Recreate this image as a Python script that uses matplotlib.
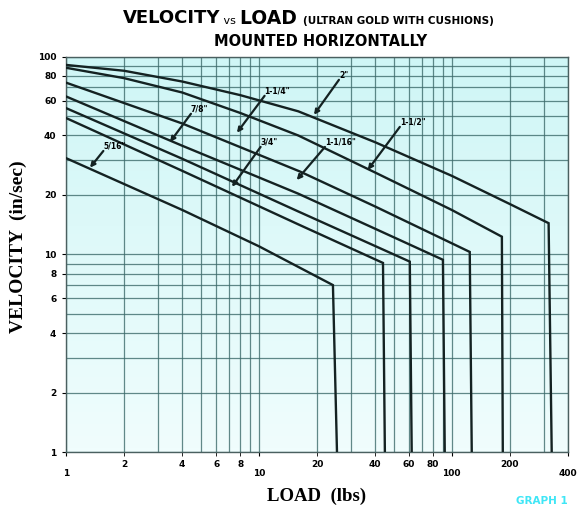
import numpy as np
import matplotlib.pyplot as plt
from matplotlib.colors import LinearSegmentedColormap

# load (lbs) / velocity (in/sec) points, one list per bore
load_2 = [1, 2, 4, 8, 16, 40, 100, 200, 318, 330]
vel_2 = [91, 85, 75, 64, 53, 37, 25, 18, 14.4, 1]
load_1_1_2 = [1, 2, 4, 8, 16, 40, 100, 182, 184]
vel_1_1_2 = [88, 78, 66, 52, 40, 26, 16.8, 12.3, 1]
load_1_1_4 = [1, 4, 16.3, 40, 124, 127]
vel_1_1_4 = [74, 46, 26.3, 17.5, 10.3, 1]
load_1_1_16 = [1, 4, 16, 40, 90, 92]
vel_1_1_16 = [63, 35.5, 20.3, 13.5, 9.4, 1]
load_7_8 = [1, 4, 16, 60.6, 62]
vel_7_8 = [55, 30.5, 16.5, 9.2, 1]
load_3_4 = [1, 4, 16, 44, 45]
vel_3_4 = [49, 26.5, 14.2, 9.06, 1]
load_5_16 = [1, 4, 10, 24.2, 25.4]
vel_5_16 = [30.7, 16.8, 11, 7.0, 1]

curves = [(load_2, vel_2), (load_1_1_2, vel_1_1_2), (load_1_1_4, vel_1_1_4),
          (load_1_1_16, vel_1_1_16), (load_7_8, vel_7_8), (load_3_4, vel_3_4),
          (load_5_16, vel_5_16)]

# label text, label position (left, bottom), arrow tip
labels = [('5/16"', (1.56, 33.4), (1.33, 27.5)),
          ('7/8"', (4.44, 51.5), (3.46, 37.1)),
          ('3/4"', (10.2, 35.0), (7.25, 22.0)),
          ('1-1/4"', (10.7, 63.5), (7.69, 41.3)),
          ('1-1/16"', (22.0, 35.0), (15.7, 23.8)),
          ('2"', (26.0, 76.5), (19.3, 50.9)),
          ('1-1/2"', (53.8, 44.2), (36.7, 26.8))]

x_ticks_low = [1, 10, 100, 400]
x_ticks_high = [2, 4, 6, 8, 20, 40, 60, 80, 200]
y_ticks = [1, 2, 4, 6, 8, 10, 20, 40, 60, 80, 100]
grid_x = [1, 2, 3, 4, 5, 6, 7, 8, 9, 10, 20, 30, 40, 50, 60, 70, 80, 90, 100, 200, 300, 400]
grid_y = [1, 2, 3, 4, 5, 6, 7, 8, 9, 10, 20, 30, 40, 50, 60, 70, 80, 90, 100]

fig = plt.figure(figsize=(5.8, 5.12), dpi=100)
ax = fig.add_axes([0.114, 0.117, 0.865, 0.772])
ax.set_xscale('log')
ax.set_yscale('log')
ax.set_xlim(1, 400)
ax.set_ylim(1, 100)

bg = LinearSegmentedColormap.from_list('bg', ['#f0fdfd', '#cff6f6'])
ax.imshow(np.linspace(0, 1, 100).reshape(-1, 1), cmap=bg, origin='lower',
          extent=[0, 1, 0, 1], transform=ax.transAxes, aspect='auto', zorder=0)

for gx in grid_x:
    ax.axvline(gx, color='#3d6b6b', lw=0.9, alpha=0.8, zorder=1)
for gy in grid_y:
    ax.axhline(gy, color='#3d6b6b', lw=0.9, alpha=0.8, zorder=1)

for lx, vy in curves:
    ax.plot(lx, vy, color='#142222', lw=1.7, zorder=3, solid_joinstyle='miter')

for txt, pos, tip in labels:
    ax.annotate('', xy=tip, xytext=pos, zorder=4,
                arrowprops=dict(arrowstyle='-|>', color='#142222', lw=1.6,
                                mutation_scale=7, shrinkA=0, shrinkB=0))
    ax.text(pos[0], pos[1], txt, fontsize=5.5, fontweight='bold',
            ha='left', va='bottom', zorder=5)

ax.set_xticks(x_ticks_low)
ax.set_xticklabels([str(v) for v in x_ticks_low])
ax.set_xticks(x_ticks_high, minor=True)
ax.set_xticklabels([str(v) for v in x_ticks_high], minor=True)
ax.tick_params(axis='x', which='major', length=3, pad=9, labelsize=6.5)
ax.tick_params(axis='x', which='minor', length=3, pad=3, labelsize=6.5)
ax.set_yticks(y_ticks)
ax.set_yticklabels([str(v) for v in y_ticks])
ax.yaxis.set_minor_locator(plt.NullLocator())
ax.tick_params(axis='y', length=3, pad=4, labelsize=6.5)
for t in ax.get_xticklabels(which='both') + ax.get_yticklabels():
    t.set_fontweight('bold')

for s in ax.spines.values():
    s.set_color('#4a6060')
    s.set_linewidth(1.0)

ax.set_xlabel('LOAD  (lbs)', family='Liberation Serif', fontweight='bold',
              fontsize=13.5, labelpad=7)
ax.set_ylabel('VELOCITY  (in/sec)', family='Liberation Serif', fontweight='bold',
              fontsize=14)
ax.yaxis.set_label_coords(-0.078, 0.52)

# title pieces
t1 = fig.text(0.212, 0.965, 'VELOCITY', fontweight='bold', fontsize=13, va='center')
t2 = fig.text(0, 0, ' vs ', fontsize=8, va='baseline')
t3 = fig.text(0, 0, 'LOAD ', fontweight='bold', fontsize=13.5, va='baseline')
t4 = fig.text(0, 0, '(ULTRAN GOLD WITH CUSHIONS)', fontweight='bold', fontsize=7.5,
              va='baseline')
fig.canvas.draw()
r = fig.canvas.get_renderer()
prev = t1
for t in (t2, t3, t4):
    bb = prev.get_window_extent(r)
    pbb = t1.get_window_extent(r)
    t.set_position(((bb.x1) / fig.bbox.width, (pbb.y0 + 2.5) / fig.bbox.height))
    prev = t
fig.text(0.552, 0.918, 'MOUNTED HORIZONTALLY', fontweight='bold', fontsize=10.5,
         ha='center', va='center')
fig.text(0.935, 0.022, 'GRAPH 1', color='#3fe6f6', fontweight='bold',
         fontsize=7.5, ha='center', va='center')

plt.savefig('out.png', dpi=100)
